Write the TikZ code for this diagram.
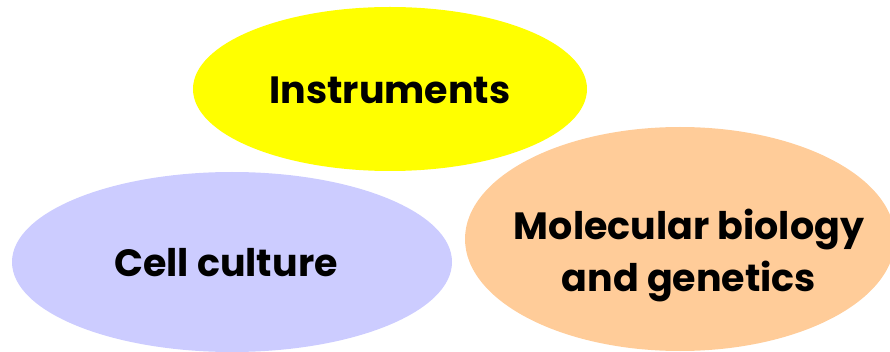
\documentclass[tikz,border=0pt]{standalone}
\usepackage{fontspec}
\setmainfont{Poppins}
\usepackage{xcolor}
\usepackage{tikz}
\usetikzlibrary{shapes.geometric}

\definecolor{instrYellow}{HTML}{FFFF00}
\definecolor{cellLavender}{HTML}{CCCCFF}
\definecolor{molPeach}{HTML}{FFCC99}

\begin{document}
\begin{tikzpicture}[
    x=1pt, y=-1pt,
    topic/.style={ellipse, draw=none, inner sep=0pt},
    label/.style={align=center, inner sep=0pt,
        font=\fontsize{38}{52}\selectfont\bfseries},
]
    \useasboundingbox (0,0) rectangle (890,352);
    \clip (0,0) rectangle (890,352);

    % Topics
    \node[topic, fill=instrYellow, minimum width=394pt, minimum height=164pt] (instr) at (390,89) {};
    \node[topic, fill=cellLavender, minimum width=440pt, minimum height=180pt] (cell) at (232,262) {};
    \node[topic, fill=molPeach, minimum width=430pt, minimum height=224pt] (mol) at (680,239) {};

    % Texts
    \node[label] (instrText) at (390,90) {Instruments};
    \node[label] (cellText) at (226,263) {Cell culture};
    \node[label] (molText) at (689,256) {Molecular biology\\and genetics};
\end{tikzpicture}
\end{document}
